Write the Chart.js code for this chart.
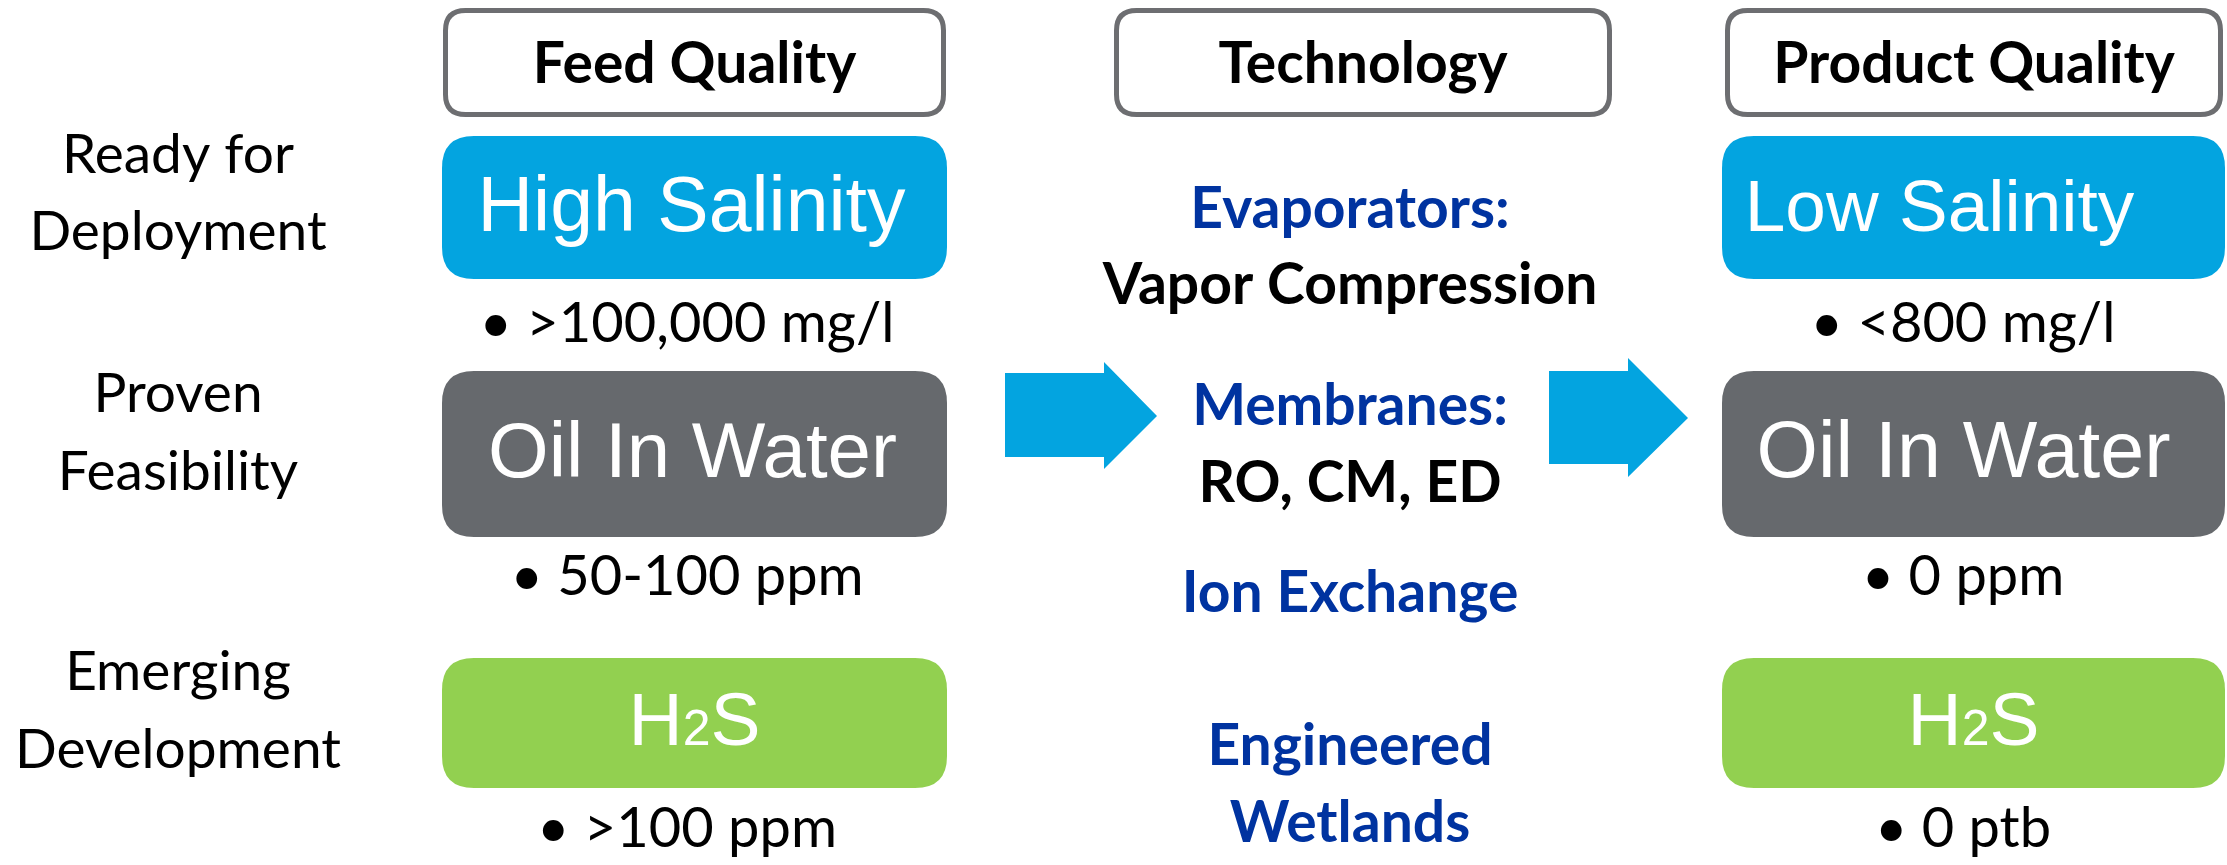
<!DOCTYPE html>
<html>
<head>
<meta charset="utf-8">
<title>Feed Quality / Technology / Product Quality</title>
<script src="https://cdn.jsdelivr.net/npm/chart.js@4.4.1/dist/chart.umd.min.js"></script>
<style>
  html, body { margin: 0; padding: 0; background: #fff; }
  canvas { display: block; }
</style>
</head>
<body>
<canvas id="flowChart" width="2227" height="865"></canvas>
<script>
// --- DATA ---
const columns = ['Feed Quality', 'Technology', 'Product Quality'];
const stages = [['Ready for', 'Deployment'], ['Proven', 'Feasibility'], ['Emerging', 'Development']];
const feedLabels = ['High Salinity', 'Oil In Water', 'H2S'];
const feedValues = ['>100,000 mg/l', '50-100 ppm', '>100 ppm'];
const productLabels = ['Low Salinity', 'Oil In Water', 'H2S'];
const productValues = ['<800 mg/l', '0 ppm', '0 ptb'];
const techNames = [['Evaporators:'], ['Membranes:'], ['Ion Exchange'], ['Engineered', 'Wetlands']];
const techDetails = ['Vapor Compression', 'RO, CM, ED', '', ''];

// --- LAYOUT (frame units, 0..2227 x 0..865) ---
const W = 2227, H = 865;
const headerSpans = [[443, 946], [1114, 1612], [1725, 2223]];
const headerY = [8, 117];
const boxRows = [[136, 279], [371, 537], [658, 788]];
const feedX = [442, 947];
const productX = [1722, 2225];
const boxColors = ['#03A4E0', '#66696D', '#92D050'];
const labelBase = [231, 477, 745];
const bulletBase = [342, 595, 847];
const stageBase = [[173, 250], [412, 490], [690, 768]];
const techLines = [[228, 304], [425, 502], [612], [765, 842]];
const arrows = [
  { x0: 1005, x1: 1104, tip: 1157, cy: 416, body: [373, 457], head: [362, 469] },
  { x0: 1549, x1: 1628, tip: 1688, cy: 418, body: [371, 464], head: [358, 477] },
];
// label sizes and horizontal nudges per box
const feedStyle = { size: [77, 78, 75], shift: [-3, -2, 0], bullet: 687 };
const productStyle = { size: [73, 79, 75], shift: [-34, -10, 0], bullet: 1963 };

const calibri = 'Lato, "Open Sans", sans-serif';
const arial = '"Liberation Sans", Arial, sans-serif';
const navy = '#0033A0';

function roundRect(ctx, x0, y0, x1, y1, r) {
  ctx.beginPath();
  ctx.moveTo(x0 + r, y0);
  ctx.lineTo(x1 - r, y0);
  ctx.quadraticCurveTo(x1, y0, x1, y0 + r);
  ctx.lineTo(x1, y1 - r);
  ctx.quadraticCurveTo(x1, y1, x1 - r, y1);
  ctx.lineTo(x0 + r, y1);
  ctx.quadraticCurveTo(x0, y1, x0, y1 - r);
  ctx.lineTo(x0, y0 + r);
  ctx.quadraticCurveTo(x0, y0, x0 + r, y0);
  ctx.closePath();
}

// box label with small digit (H2S)
function boxLabel(ctx, text, cx, y, size) {
  const parts = text.split(/(\d)/).filter(Boolean);
  const fonts = parts.map((p) => (/\d/.test(p) ? `${Math.round(size * 0.66)}px ${arial}` : `${size}px ${arial}`));
  let total = 0;
  const widths = parts.map((p, i) => { ctx.font = fonts[i]; const w = ctx.measureText(p).width; total += w; return w; });
  let x = cx - total / 2;
  ctx.textAlign = 'left';
  parts.forEach((p, i) => { ctx.font = fonts[i]; ctx.fillText(p, x, y); x += widths[i]; });
}

const diagramPlugin = {
  id: 'diagram',
  afterDraw(chart) {
    const { ctx, scales } = chart;
    const X = (v) => scales.x.getPixelForValue(v);
    const Y = (v) => scales.y.getPixelForValue(v);
    ctx.save();
    ctx.textBaseline = 'alphabetic';

    // header boxes
    columns.forEach((name, i) => {
      const [a, b] = headerSpans[i];
      roundRect(ctx, X(a) + 2.5, Y(headerY[0]) + 2.5, X(b) - 2.5, Y(headerY[1]) - 2.5, 20);
      ctx.fillStyle = '#fff';
      ctx.fill();
      ctx.lineWidth = 5;
      ctx.strokeStyle = '#6D6E71';
      ctx.stroke();
      ctx.fillStyle = '#000';
      ctx.font = `bold 57px ${calibri}`;
      ctx.textAlign = 'center';
      ctx.fillText(name, X((a + b) / 2), Y(83));
    });

    // stage labels
    ctx.font = `55px ${calibri}`;
    ctx.textAlign = 'center';
    ctx.fillStyle = '#000';
    stages.forEach((lines, i) => {
      lines.forEach((t, j) => ctx.fillText(t, X(178), Y(stageBase[i][j])));
    });

    // coloured boxes, feed and product
    [[feedX, feedLabels, feedValues, feedStyle], [productX, productLabels, productValues, productStyle]].forEach(([span, labels, values, st]) => {
      boxRows.forEach(([top, bot], i) => {
        roundRect(ctx, X(span[0]), Y(top), X(span[1]), Y(bot), 32);
        ctx.fillStyle = boxColors[i];
        ctx.fill();
        ctx.fillStyle = '#fff';
        const cx = (span[0] + span[1]) / 2 + st.shift[i];
        boxLabel(ctx, labels[i], X(cx), Y(labelBase[i]), st.size[i]);
        ctx.fillStyle = '#000';
        ctx.font = `56px ${calibri}`;
        ctx.textAlign = 'center';
        ctx.fillText('\u2022 ' + values[i], X(st.bullet), Y(bulletBase[i]));
      });
    });

    // technology list
    ctx.textAlign = 'center';
    techNames.forEach((lines, i) => {
      const ys = techLines[i];
      ctx.font = `bold 57px ${calibri}`;
      lines.forEach((t, j) => {
        ctx.fillStyle = navy;
        ctx.fillText(t, X(1350), Y(ys[j]));
      });
      if (techDetails[i]) {
        ctx.fillStyle = '#000';
        ctx.fillText(techDetails[i], X(1350), Y(ys[lines.length]));
      }
    });

    // arrows
    ctx.fillStyle = '#03A4E0';
    arrows.forEach((a) => {
      ctx.beginPath();
      ctx.moveTo(X(a.x0), Y(a.body[0]));
      ctx.lineTo(X(a.x1), Y(a.body[0]));
      ctx.lineTo(X(a.x1), Y(a.head[0]));
      ctx.lineTo(X(a.tip), Y(a.cy));
      ctx.lineTo(X(a.x1), Y(a.head[1]));
      ctx.lineTo(X(a.x1), Y(a.body[1]));
      ctx.lineTo(X(a.x0), Y(a.body[1]));
      ctx.closePath();
      ctx.fill();
    });

    ctx.restore();
  },
};

new Chart(document.getElementById('flowChart'), {
  type: 'scatter',
  data: { datasets: [] },
  options: {
    responsive: false,
    animation: false,
    devicePixelRatio: 1,
    layout: { padding: 0 },
    plugins: { legend: { display: false }, tooltip: { enabled: false } },
    scales: {
      x: { type: 'linear', min: 0, max: W, display: false },
      y: { type: 'linear', min: 0, max: H, reverse: true, display: false },
    },
  },
  plugins: [diagramPlugin],
});
</script>
</body>
</html>
